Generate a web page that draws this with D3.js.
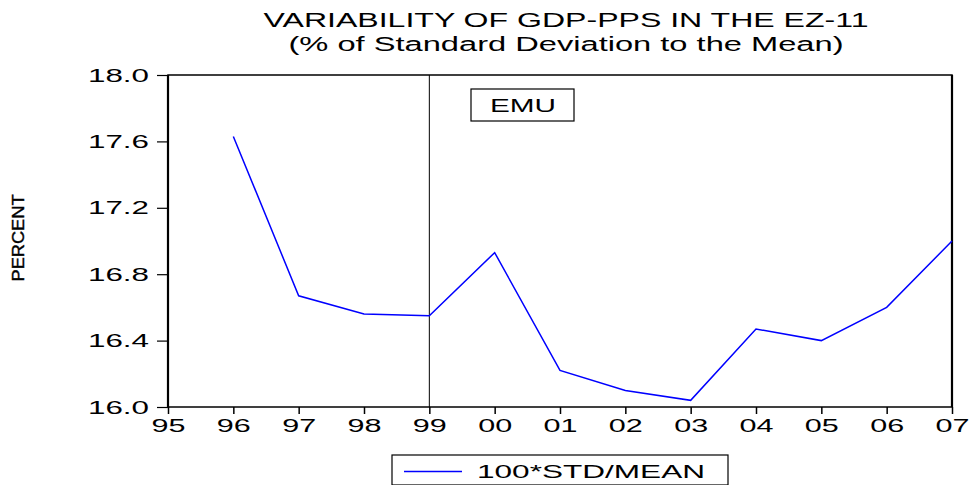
<!DOCTYPE html>
<html>
<head>
<meta charset="utf-8">
<script src="https://cdn.jsdelivr.net/npm/d3@7"></script>
<style>
  body { margin: 0; background: #fff; }
  text { font-family: "Liberation Sans", Arial, sans-serif; fill: #000; }
</style>
</head>
<body>
<div id="chart"></div>
<script>
// data
var years = [1996, 1997, 1998, 1999, 2000, 2001, 2002, 2003, 2004, 2005, 2006, 2007]
var values = [17.63, 16.67, 16.56, 16.55, 16.93, 16.22, 16.10, 16.04, 16.47, 16.40, 16.60, 17.00]
var xTicks = [1995, 1996, 1997, 1998, 1999, 2000, 2001, 2002, 2003, 2004, 2005, 2006, 2007]
var yTicks = [16.0, 16.4, 16.8, 17.2, 17.6, 18.0]
var titleLines = ["VARIABILITY OF GDP-PPS IN THE EZ-11", "(% of Standard Deviation to the Mean)"]
var seriesName = "100*STD/MEAN"
var emuYear = 1999

var W = 972, H = 485
var margin = {top: 75, right: 20, bottom: 78, left: 168}
var width = W - margin.left - margin.right
var height = H - margin.top - margin.bottom

var svg = d3.select("#chart").append("svg")
    .attr("width", W)
    .attr("height", H)

var x = d3.scaleLinear().domain([1995, 2007]).range([margin.left, margin.left + width])
var y = d3.scaleLinear().domain([16, 18]).range([margin.top + height, margin.top])

// title
svg.selectAll(".title").data(titleLines).enter().append("text")
    .attr("x", 566)
    .attr("y", function(d, i) { return 27 + i * 24 })
    .attr("text-anchor", "middle")
    .attr("textLength", function(d, i) { return i == 0 ? 605 : 555 })
    .attr("lengthAdjust", "spacingAndGlyphs")
    .style("font-size", "20px")
    .text(function(d) { return d })

// x axis
var xAxis = d3.axisBottom(x)
    .tickValues(xTicks)
    .tickSize(7)
    .tickSizeOuter(0)
    .tickFormat(function(v) { return String(v).slice(2) })
var gx = svg.append("g")
    .attr("transform", "translate(0," + (margin.top + height) + ")")
    .call(xAxis)
gx.select(".domain").remove()
gx.selectAll(".tick line").attr("stroke-width", 1.5)
gx.selectAll(".tick text")
    .attr("y", 25)
    .attr("dy", 0)
    .attr("textLength", 34)
    .attr("lengthAdjust", "spacingAndGlyphs")
    .style("font-size", "18px")

// y axis
var yAxis = d3.axisLeft(y)
    .tickValues(yTicks)
    .tickSize(11)
    .tickSizeOuter(0)
    .tickFormat(d3.format(".1f"))
var gy = svg.append("g")
    .attr("transform", "translate(" + margin.left + ",0)")
    .call(yAxis)
gy.select(".domain").remove()
gy.selectAll(".tick line").attr("stroke-width", 1.2)
gy.selectAll(".tick text")
    .attr("x", -19)
    .attr("dy", "0.32em")
    .attr("textLength", 61)
    .attr("lengthAdjust", "spacingAndGlyphs")
    .style("font-size", "19px")

// y label (squeezed like the original)
svg.append("text")
    .attr("transform", "translate(24,238) rotate(-90)")
    .attr("text-anchor", "middle")
    .attr("textLength", 87)
    .attr("lengthAdjust", "spacingAndGlyphs")
    .style("font-size", "17px")
    .style("stroke", "#000")
    .style("stroke-width", 0.4)
    .text("PERCENT")

// frame
svg.append("rect")
    .attr("x", margin.left)
    .attr("y", margin.top)
    .attr("width", width)
    .attr("height", height)
    .style("fill", "none")
    .style("stroke", "#000")
    .style("stroke-width", 1.5)
svg.append("line")
    .attr("x1", margin.left).attr("x2", margin.left)
    .attr("y1", margin.top).attr("y2", margin.top + height)
    .style("stroke", "#000").style("stroke-width", 2.2)
svg.append("line")
    .attr("x1", margin.left + width).attr("x2", margin.left + width)
    .attr("y1", margin.top).attr("y2", margin.top + height)
    .style("stroke", "#000").style("stroke-width", 2.2)

// EMU marker line
svg.append("line")
    .attr("x1", x(emuYear)).attr("x2", x(emuYear))
    .attr("y1", margin.top).attr("y2", margin.top + height)
    .style("stroke", "#000").style("stroke-width", 1)

// EMU box
svg.append("rect")
    .attr("x", 471).attr("y", 89)
    .attr("width", 103).attr("height", 32)
    .style("fill", "#fff").style("stroke", "#000").style("stroke-width", 1.2)
svg.append("text")
    .attr("x", 523).attr("y", 112)
    .attr("text-anchor", "middle")
    .attr("textLength", 66)
    .attr("lengthAdjust", "spacingAndGlyphs")
    .style("font-size", "18px")
    .text("EMU")

// series line
var line = d3.line()
    .x(function(d, i) { return x(years[i]) })
    .y(function(d) { return y(d) })
svg.append("path")
    .attr("d", line(values))
    .style("fill", "none")
    .style("stroke", "#0000ff")
    .style("stroke-width", 1.5)

// legend
svg.append("rect")
    .attr("x", 392).attr("y", 455)
    .attr("width", 336).attr("height", 30)
    .style("fill", "#fff").style("stroke", "#000").style("stroke-width", 1.2)
svg.append("line")
    .attr("x1", 404).attr("x2", 462)
    .attr("y1", 471.5).attr("y2", 471.5)
    .style("stroke", "#0000ff").style("stroke-width", 1.5)
svg.append("text")
    .attr("x", 477).attr("y", 478)
    .attr("textLength", 228)
    .attr("lengthAdjust", "spacingAndGlyphs")
    .style("font-size", "19px")
    .text(seriesName)
</script>
</body>
</html>
